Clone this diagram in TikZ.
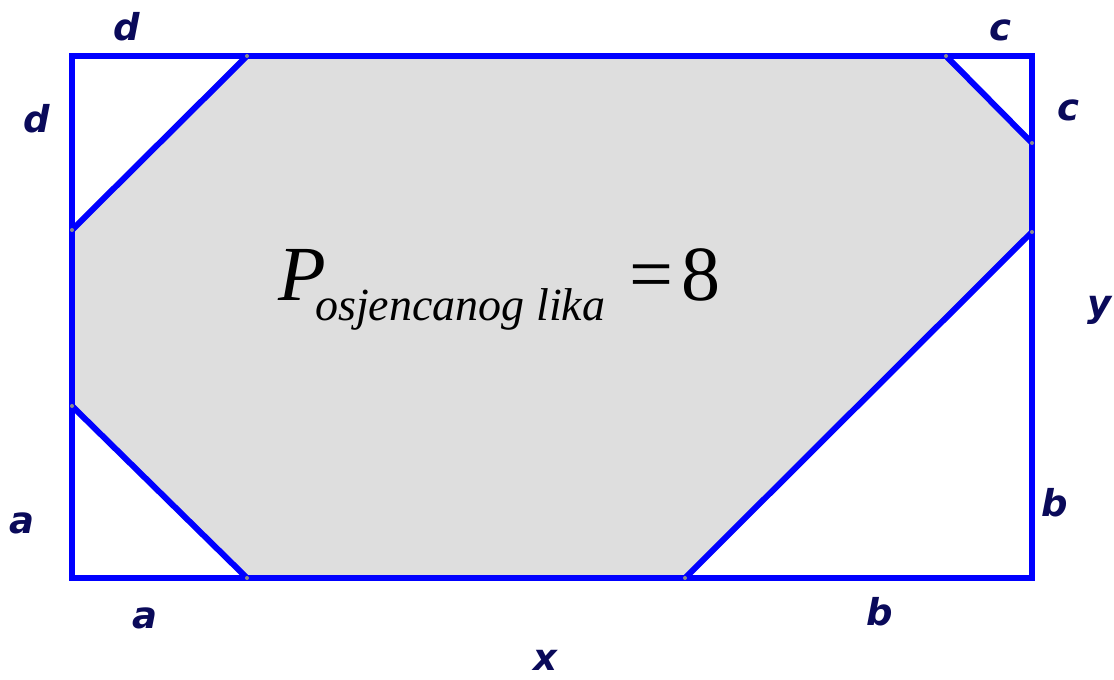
\documentclass[tikz,border=0pt]{standalone}
\usepackage{fontspec}
\setmainfont{Liberation Serif}
\newfontfamily\lblfont{DejaVu Sans}
\usetikzlibrary{positioning}
\definecolor{cBlue}{HTML}{0000FF}
\definecolor{cFill}{HTML}{DEDEDE}
\definecolor{cLabel}{HTML}{0A0A5A}
\definecolor{cDot}{HTML}{8C8C8C}

\begin{document}
\begin{tikzpicture}[
    x=1pt, y=-1pt,
    edge/.style={draw=cBlue, line width=6pt, line join=miter},
    shade/.style={fill=cFill},
    lbl/.style={font=\lblfont\bfseries\itshape\fontsize{37}{40}\selectfont,
        text=cLabel, inner sep=0pt},
    pt/.style={fill=cDot, circle, inner sep=0pt, minimum size=4pt},
    eq/.style={inner sep=0pt, anchor=base west},
]
\useasboundingbox (0,0) rectangle (1114,680);

% =============================================
% CORNERS AND CUT POINTS
% =============================================
\coordinate (BL) at (72,578);
\coordinate (BR) at (1032,578);
\coordinate (TR) at (1032,56);
\coordinate (TL) at (72,56);

\coordinate (dT) at (247,56);    % top, d from left
\coordinate (cT) at (946,56);    % top, c from right
\coordinate (cR) at (1032,143);  % right, c from top
\coordinate (bR) at (1032,232);  % right, b from bottom
\coordinate (bB) at (685,578);   % bottom, b from right
\coordinate (aB) at (247,578);   % bottom, a from left
\coordinate (aL) at (72,406);    % left, a from bottom
\coordinate (dL) at (72,230);    % left, d from top

% shaded figure
\fill[shade] (dT) -- (cT) -- (cR) -- (bR) -- (bB) -- (aB) -- (aL) -- (dL) -- cycle;

% =============================================
% RECTANGLE AND CUTS
% =============================================
\draw[edge] (BL) -- (BR) -- (TR) -- (TL) -- cycle;
\draw[edge] (dL) -- (dT);
\draw[edge] (cT) -- (cR);
\draw[edge] (bR) -- (bB);
\draw[edge] (aB) -- (aL);

% small points on the sides
\foreach \p in {dT, cT, cR, bR, bB, aB, aL, dL}
    \node[pt] at (\p) {};

% =============================================
% SIDE LABELS
% =============================================
\node[lbl] (lblDt) at (127,27) {d};
\node[lbl] (lblDl) at (37,119) {d};
\node[lbl] (lblCt) at (1000,30) {c};
\node[lbl] (lblCr) at (1068,110) {c};
\node[lbl] (lblY)  at (1100,310) {y};
\node[lbl] (lblBr) at (1055,503) {b};
\node[lbl] (lblAl) at (22,523) {a};
\node[lbl] (lblAb) at (145,618) {a};
\node[lbl] (lblBb) at (880,612) {b};
\node[lbl] (lblX)  at (545,660) {x};

% =============================================
% AREA FORMULA
% =============================================
\node[eq, font=\fontsize{78}{80}\selectfont\itshape] (eqP) at (278,300) {P};
\node[eq, font=\fontsize{46}{50}\selectfont\itshape] (eqSub) at (315,320) {osjencanog lika};
\node[eq, font=\fontsize{78}{80}\selectfont] (eqVal) at (629,300) {=\kern8pt 8};

\end{tikzpicture}
\end{document}
